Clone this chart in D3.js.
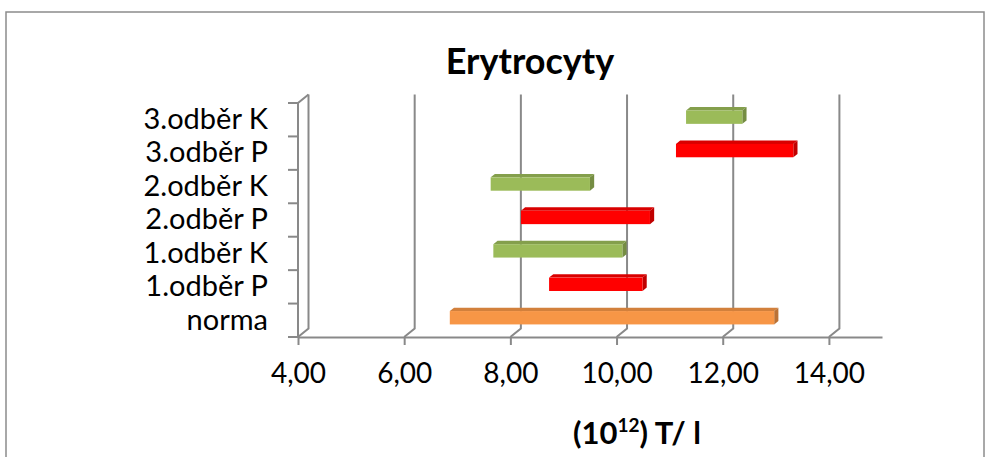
<!DOCTYPE html>
<html>
<head>
<meta charset="utf-8">
<script src="https://cdn.jsdelivr.net/npm/d3@7"></script>
<style>
  body { margin: 0; background: #fff; }
  svg { display: block; font-family: Lato, "Open Sans", sans-serif; }
</style>
</head>
<body>
<svg id="chart" width="987" height="457"></svg>
<script>
// bars go bottom -> top, like excel draws them
const categories = ["norma", "1.odběr P", "1.odběr K", "2.odběr P", "2.odběr K", "3.odběr P", "3.odběr K"];
const lowValues  = [6.80, 8.67, 7.62, 8.14, 7.57, 11.06, 11.25];
const highValues = [12.91, 10.43, 10.05, 10.57, 9.44, 13.27, 12.31];
const barColors  = ["#F79646", "#FF0000", "#9BBB59", "#FF0000", "#9BBB59", "#FF0000", "#9BBB59"];
const xTicks = [4, 6, 8, 10, 12, 14];

const svg = d3.select("#chart");
const grid = "#898989";

// 3d depth of the floor (back wall is shifted by this)
const dx = 10.5, dy = -8.5;

const x = d3.scaleLinear().domain([4, 15]).range([298, 882]);
const y = d3.scaleBand().domain(categories).range([337, 103]);

// outer border
svg.append("rect")
    .attr("x", 6).attr("y", 12).attr("width", 978).attr("height", 470)
    .attr("fill", "none").attr("stroke", "#8c8c8c").attr("stroke-width", 1.5);

svg.append("text")
    .attr("x", 530).attr("y", 74)
    .attr("text-anchor", "middle")
    .attr("font-weight", "bold")
    .attr("font-size", 36)
    .text("Erytrocyty");

const walls = svg.append("g")
    .attr("stroke", grid).attr("stroke-width", 2).attr("fill", "none");

// left wall
walls.append("path")
    .attr("d", `M${x(4)},${y.range()[0]} L${x(4)},${y.range()[1]} L${x(4) + dx},${y.range()[1] + dy}`);

// gridlines on the back wall + their floor diagonal
xTicks.forEach(t => {
    walls.append("path")
        .attr("d", `M${x(t)},337 L${x(t) + dx},${337 + dy} L${x(t) + dx},${103 + dy}`);
});

// floor front edge with ticks
const xAxis = d3.axisBottom(x).tickValues(xTicks).tickSize(8).tickSizeOuter(0)
    .tickFormat(d => d3.format(".2f")(d).replace(".", ","));
const gx = svg.append("g").attr("transform", "translate(0,337)").call(xAxis);
gx.select(".domain").attr("stroke", grid).attr("stroke-width", 2);
gx.selectAll(".tick line").attr("stroke", grid).attr("stroke-width", 2);
gx.selectAll(".tick text")
    .attr("y", 46).attr("dy", 0)
    .attr("font-size", 28).attr("font-family", "Lato, sans-serif").attr("fill", "#000");

// vertical category axis
const yAxis = d3.axisLeft(y).tickSize(0).tickPadding(30);
const gy = svg.append("g").attr("transform", `translate(${x(4)},0)`).call(yAxis);
gy.select(".domain").remove();
gy.selectAll(".tick text")
    .attr("font-size", 29).attr("font-family", "Lato, sans-serif").attr("fill", "#000");

// category boundary ticks
svg.append("g").selectAll("line")
    .data(categories.concat(["end"]))
    .join("line")
    .attr("x1", x(4) - 10).attr("x2", x(4))
    .attr("y1", (d, i) => 337 - i * y.bandwidth())
    .attr("y2", (d, i) => 337 - i * y.bandwidth())
    .attr("stroke", grid).attr("stroke-width", 2);

// 3d bars
const f0 = 0.3, f1 = 0.7;
const barH = y.bandwidth() / 2.5;
const bars = svg.append("g").selectAll("g")
    .data(categories.map((c, i) => ({ c, lo: lowValues[i], hi: highValues[i], col: barColors[i] })))
    .join("g");

bars.each(function(d) {
    const g = d3.select(this);
    const x0 = x(d.lo) + f0 * dx, x1 = x(d.hi) + f0 * dx;
    const yc = y(d.c) + y.bandwidth() / 2 + f0 * dy;
    const yt = yc - barH / 2, yb = yc + barH / 2;
    const ddx = (f1 - f0) * dx, ddy = (f1 - f0) * dy;
    const base = d3.color(d.col);
    // top face
    g.append("path")
        .attr("d", `M${x0},${yt} L${x0 + ddx},${yt + ddy} L${x1 + ddx},${yt + ddy} L${x1},${yt} Z`)
        .attr("fill", base.darker(0.45));
    // right side
    g.append("path")
        .attr("d", `M${x1},${yt} L${x1 + ddx},${yt + ddy} L${x1 + ddx},${yb + ddy} L${x1},${yb} Z`)
        .attr("fill", base.darker(0.8));
    // front
    g.append("rect")
        .attr("x", x0).attr("y", yt).attr("width", x1 - x0).attr("height", barH)
        .attr("fill", base);
});

// axis title
const at = svg.append("text")
    .attr("x", 637).attr("y", 444)
    .attr("text-anchor", "middle")
    .attr("font-weight", "bold")
    .attr("font-size", 31);
at.append("tspan").text("(10");
at.append("tspan").attr("font-size", 19).attr("dy", -12).text("12");
at.append("tspan").attr("dy", 12).text(") T/ l");
</script>
</body>
</html>
